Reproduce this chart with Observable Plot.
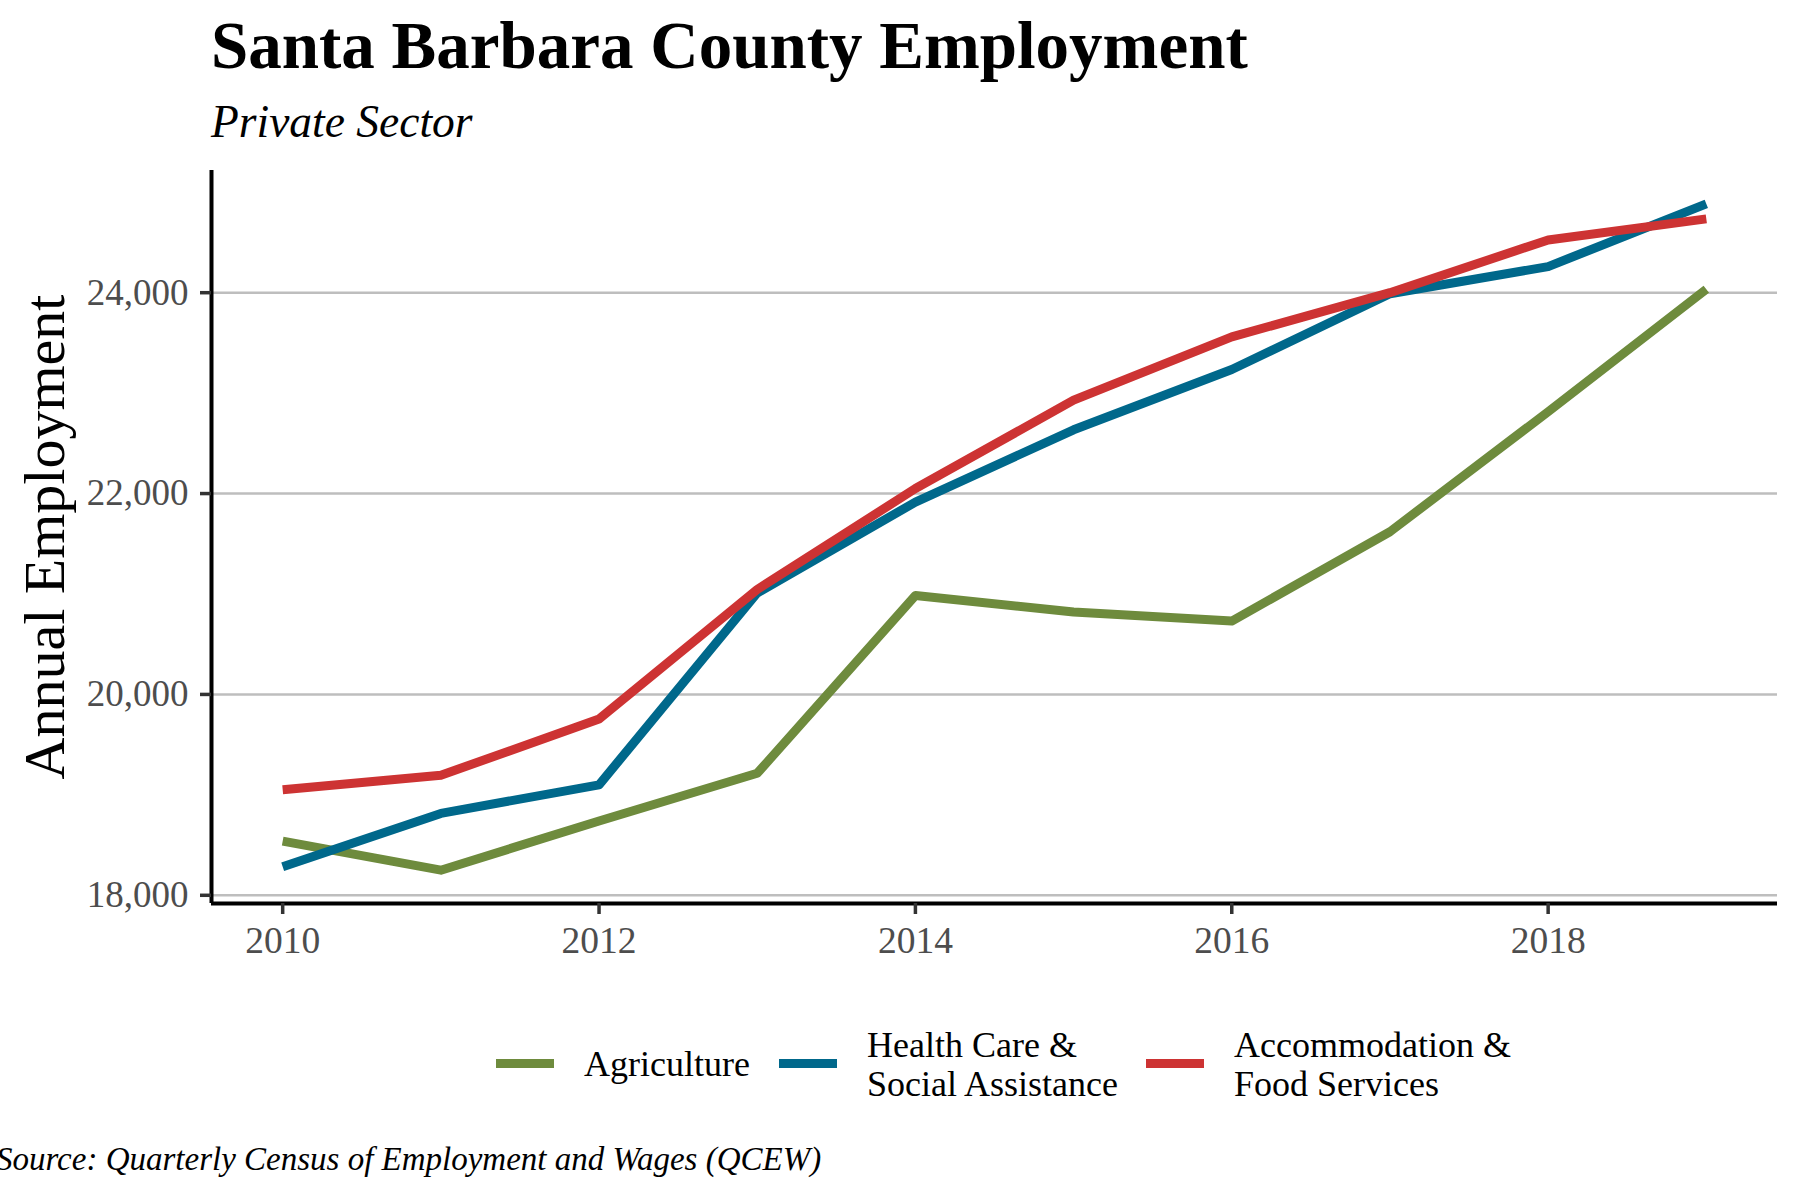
<!DOCTYPE html>
<html>
<head>
<meta charset="utf-8">
<script src="https://cdn.jsdelivr.net/npm/d3@7"></script>
<script src="https://cdn.jsdelivr.net/npm/@observablehq/plot@0.6"></script>
<style>
  html, body { margin: 0; padding: 0; background: #ffffff; }
  #wrap { position: relative; width: 1800px; height: 1200px; overflow: hidden; background: #ffffff;
          font-family: "Liberation Serif", "Times New Roman", serif; color: #000; }
  .abs { position: absolute; white-space: nowrap; line-height: 1; }
  #title { left: 211px; top: 12px; font-size: 67px; font-weight: bold; }
  #subtitle { left: 211px; top: 99px; font-size: 45.5px; font-style: italic; }
  #caption { left: -4px; top: 1143px; font-size: 33px; font-style: italic; }
  .sw { position: absolute; height: 9px; width: 58px; }
  .lg { position: absolute; font-size: 36px; line-height: 39px; white-space: nowrap; }
  #chart { position: absolute; left: 0; top: 150px; }
</style>
</head>
<body>
<div id="wrap">
  <div id="title" class="abs">Santa Barbara County Employment</div>
  <div id="subtitle" class="abs">Private Sector</div>
  <div id="chart"></div>
  <div id="legend"></div>
  <div id="caption" class="abs">Source: Quarterly Census of Employment and Wages (QCEW)</div>
</div>
<script>
// ---- data ----
const years = [2010, 2011, 2012, 2013, 2014, 2015, 2016, 2017, 2018, 2019];
const agriculture   = [18540, 18250, 18740, 19215, 20985, 20820, 20730, 21620, 22815, 24035];
const healthCare    = [18285, 18815, 19100, 21010, 21915, 22635, 23235, 23990, 24260, 24885];
const accommodation = [19050, 19195, 19755, 21045, 22050, 22930, 23560, 24000, 24525, 24735];
const seriesNames = ["Agriculture", "Health Care & Social Assistance", "Accommodation & Food Services"];
const legendLabels = [["Agriculture"], ["Health Care &", "Social Assistance"], ["Accommodation &", "Food Services"]];
const seriesColors = ["#6E8B3D", "#00688B", "#CD3333"];
const yTicks = [18000, 20000, 22000, 24000];
const xTicks = [2010, 2012, 2014, 2016, 2018];

// ---- long table ----
const seriesValues = [agriculture, healthCare, accommodation];
const rows = [];
seriesNames.forEach((name, s) => {
  years.forEach((yr, i) => rows.push({ year: yr, value: seriesValues[s][i], series: name }));
});

// ggplot-like 5% expansion
const [ymin, ymax] = d3.extent(rows, d => d.value);
const yPad = (ymax - ymin) * 0.05;
const yDomain = [ymin - yPad, ymax + yPad];
const [xmin, xmax] = d3.extent(years);
const xPad = (xmax - xmin) * 0.05;
const xDomain = [xmin - xPad, xmax + xPad];

const fontFamily = "'Liberation Serif', 'Times New Roman', serif";

const plot = Plot.plot({
  width: 1800,
  height: 820,
  marginTop: 20,
  marginBottom: 67,
  marginLeft: 211,
  marginRight: 23,
  style: { fontFamily, background: "transparent", overflow: "visible" },
  x: { domain: xDomain, label: null },
  y: { domain: yDomain, label: null },
  color: { domain: seriesNames, range: seriesColors },
  marks: [
    Plot.gridY(yTicks, { stroke: "#BEBEBE", strokeOpacity: 1, strokeWidth: 2.5 }),
    Plot.line(rows, {
      x: "year", y: "value", z: "series", stroke: "series",
      strokeWidth: 9, strokeLinejoin: "round", strokeLinecap: "butt"
    }),
    Plot.ruleX([xDomain[0]], { stroke: "#000", strokeWidth: 4 }),
    Plot.ruleY([yDomain[0]], { stroke: "#000", strokeWidth: 4 }),
    Plot.axisY(yTicks, {
      tickSize: 11, tickPadding: 12, fontSize: 37,
      stroke: "#333333", strokeWidth: 3.5, fill: "#4d4d4d",
      tickFormat: d3.format(","), label: null
    }),
    Plot.axisX(xTicks, {
      tickSize: 11, tickPadding: 12, fontSize: 37.5,
      stroke: "#333333", strokeWidth: 3.5, fill: "#4d4d4d",
      tickFormat: d => String(d), label: null
    }),
    Plot.text(["Annual Employment"], {
      text: d => d, frameAnchor: "left", dx: -148, rotate: -90,
      lineAnchor: "bottom", textAnchor: "middle", fontSize: 58, fill: "#000"
    })
  ]
});
document.getElementById("chart").appendChild(plot);

// ---- legend (HTML, below the plot) ----
const legend = document.getElementById("legend");
const swatchLeft = [496, 779, 1146];
const textLeft = [584, 867, 1234];
seriesNames.forEach((name, i) => {
  const sw = document.createElement("div");
  sw.className = "sw";
  sw.style.left = swatchLeft[i] + "px";
  sw.style.top = "1059px";
  sw.style.background = seriesColors[i];
  legend.appendChild(sw);
  const tx = document.createElement("div");
  tx.className = "lg";
  tx.style.left = textLeft[i] + "px";
  const lines = legendLabels[i];
  tx.style.top = (1045 - (lines.length - 1) * 19.5) + "px";
  tx.innerHTML = lines.map(l => l.replace(/&/g, "&amp;")).join("<br>");
  legend.appendChild(tx);
});
</script>
</body>
</html>
